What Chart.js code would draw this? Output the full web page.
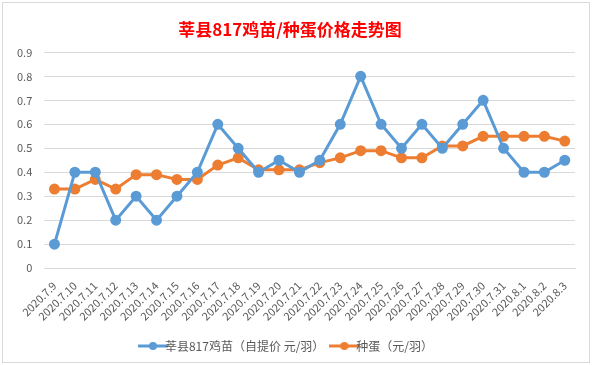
<!DOCTYPE html>
<html>
<head>
<meta charset="utf-8">
<script src="https://cdn.jsdelivr.net/npm/chart.js@4"></script>
<style>
    body { margin: 0; background: #fff; }
    #frame {
        position: absolute; left: 2px; top: 2px;
        width: 586px; height: 359px;
        border: 1px solid #d9d9d9; background: #fff;
    }
</style>
</head>
<body>
<div id="frame"><canvas id="priceChart" width="586" height="359"></canvas></div>
<script>
const dates = ['2020.7.9', '2020.7.10', '2020.7.11', '2020.7.12', '2020.7.13', '2020.7.14', '2020.7.15',
    '2020.7.16', '2020.7.17', '2020.7.18', '2020.7.19', '2020.7.20', '2020.7.21', '2020.7.22', '2020.7.23',
    '2020.7.24', '2020.7.25', '2020.7.26', '2020.7.27', '2020.7.28', '2020.7.29', '2020.7.30', '2020.7.31',
    '2020.8.1', '2020.8.2', '2020.8.3'];
const chickPrice = [0.1, 0.4, 0.4, 0.2, 0.3, 0.2, 0.3, 0.4, 0.6, 0.5, 0.4, 0.45, 0.4, 0.45, 0.6,
    0.8, 0.6, 0.5, 0.6, 0.5, 0.6, 0.7, 0.5, 0.4, 0.4, 0.45];
const eggPrice = [0.33, 0.33, 0.37, 0.33, 0.39, 0.39, 0.37, 0.37, 0.43, 0.46, 0.41, 0.41, 0.41, 0.44, 0.46,
    0.49, 0.49, 0.46, 0.46, 0.51, 0.51, 0.55, 0.55, 0.55, 0.55, 0.53];

// legend swatch: short line with a dot, like Excel
function swatch(color) {
    const c = document.createElement('canvas');
    c.width = 30; c.height = 10;
    const g = c.getContext('2d');
    g.strokeStyle = color; g.lineWidth = 3;
    g.beginPath(); g.moveTo(0, 5); g.lineTo(30, 5); g.stroke();
    g.fillStyle = color;
    g.beginPath(); g.arc(15, 5, 4, 0, Math.PI * 2); g.fill();
    return c;
}

document.addEventListener('DOMContentLoaded', () => {
    const ctx = document.getElementById('priceChart');
    const font = "'Microsoft YaHei', 'Noto Sans CJK SC', sans-serif";
    new Chart(ctx, {
        type: 'line',
        data: {
            labels: dates,
            datasets: [{
                label: '莘县817鸡苗（自提价 元/羽）',
                data: chickPrice,
                borderColor: '#5b9bd5',
                backgroundColor: '#5b9bd5',
                borderWidth: 3,
                pointRadius: 4,
                pointHoverRadius: 4,
                tension: 0
            }, {
                label: '种蛋（元/羽）',
                data: eggPrice,
                borderColor: '#ed7d31',
                backgroundColor: '#ed7d31',
                borderWidth: 3,
                pointRadius: 4,
                pointHoverRadius: 4,
                tension: 0
            }]
        },
        options: {
            responsive: false,
            animation: false,
            layout: { padding: { left: 2, right: 14, top: 0, bottom: 0 } },
            plugins: {
                title: {
                    display: true,
                    text: '莘县817鸡苗/种蛋价格走势图',
                    color: '#ff0000',
                    font: { family: font, size: 17, weight: 'bold' },
                    padding: { top: 16, bottom: 13 }
                },
                legend: {
                    position: 'bottom',
                    labels: {
                        color: '#595959',
                        font: { family: font, size: 12 },
                        usePointStyle: true,
                        padding: 14,
                        generateLabels: chart => chart.data.datasets.map((ds, i) => ({
                            text: ds.label,
                            fontColor: '#595959',
                            pointStyle: swatch(ds.borderColor),
                            hidden: false,
                            datasetIndex: i
                        }))
                    }
                },
                tooltip: { enabled: false }
            },
            scales: {
                x: {
                    offset: true,
                    grid: { display: false },
                    border: { color: '#d9d9d9' },
                    ticks: {
                        color: '#595959',
                        font: { family: font, size: 11 },
                        maxRotation: 45,
                        minRotation: 45,
                        autoSkip: false
                    }
                },
                y: {
                    min: 0,
                    max: 0.9,
                    grid: { color: '#d9d9d9', drawTicks: false },
                    border: { display: false },
                    ticks: {
                        stepSize: 0.1,
                        padding: 12,
                        color: '#595959',
                        font: { family: font, size: 11 },
                        callback: v => Math.round(v * 10) / 10
                    }
                }
            }
        }
    });
});
</script>
</body>
</html>
